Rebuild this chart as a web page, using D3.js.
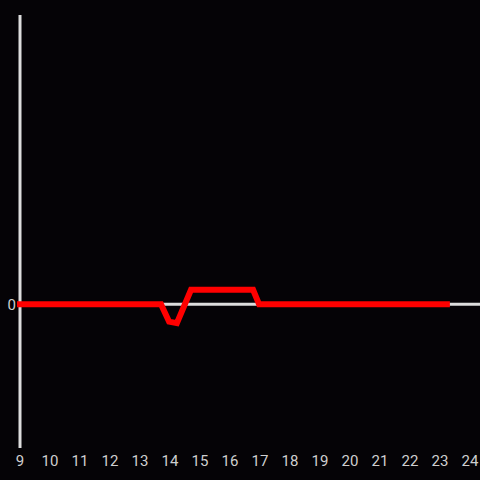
<!DOCTYPE html>
<html><head><meta charset="utf-8">
<script src="https://cdn.jsdelivr.net/npm/d3@7"></script>
<style>html,body{margin:0;padding:0;background:#050306;}svg{display:block;}</style>
</head><body>
<script>
const hours = [9, 13.7, 13.97, 14.23, 14.7, 16.77, 16.97, 23.23];
const values = [0, 0, -0.12, -0.13, 0.1, 0.1, 0, 0];
const xTicks = [9,10,11,12,13,14,15,16,17,18,19,20,21,22,23,24];
const yTicks = [0];

const W = 480, H = 480;
const svg = d3.select("body").append("svg").attr("width", W).attr("height", H);
svg.append("rect").attr("width", W).attr("height", H).attr("fill", "#050306");

const x = d3.scaleLinear().domain([9, 24]).range([20, 470]);
const y = d3.scaleLinear().domain([-1, 2]).range([449, 15]);

// y axis line
svg.append("line").attr("x1", x(9)).attr("x2", x(9)).attr("y1", 15).attr("y2", 448)
  .attr("stroke", "#dddddd").attr("stroke-width", 3);
// zero line
svg.append("line").attr("x1", x(9)).attr("x2", 480).attr("y1", y(0)).attr("y2", y(0))
  .attr("stroke", "#dddddd").attr("stroke-width", 3);

svg.selectAll("text.xt").data(xTicks).enter().append("text").attr("class", "xt")
  .attr("x", d => x(d)).attr("y", 466).attr("text-anchor", "middle")
  .attr("font-family", "Roboto, 'Noto Sans', sans-serif").attr("font-size", 15)
  .attr("fill", "#cfcfcf").text(d => d);

svg.selectAll("text.yt").data(yTicks).enter().append("text").attr("class", "yt")
  .attr("x", 16).attr("y", d => y(d) + 6).attr("text-anchor", "end")
  .attr("font-family", "Roboto, 'Noto Sans', sans-serif").attr("font-size", 15)
  .attr("fill", "#cfcfcf").text(d => d);

const line = d3.line().x((d, i) => x(hours[i])).y(d => y(d));
svg.append("path").datum(values).attr("d", line).attr("fill", "none")
  .attr("stroke", "#ff0000").attr("stroke-width", 6)
  .attr("stroke-linejoin", "miter").attr("stroke-linecap", "square");
</script>
</body></html>
